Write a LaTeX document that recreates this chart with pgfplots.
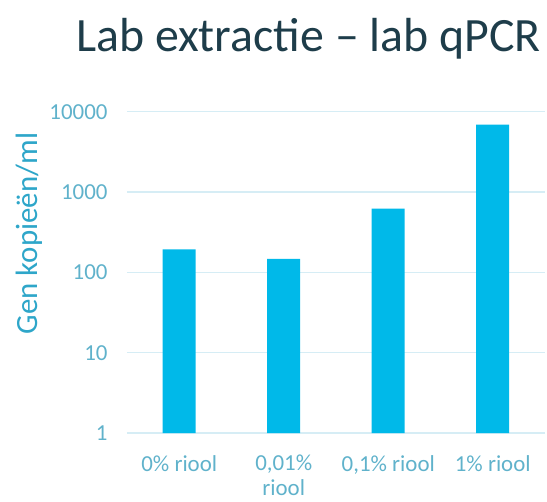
\documentclass[border=0pt]{standalone}
\usepackage{fontspec}
\setmainfont{Carlito}
\usepackage{pgfplots}
\pgfplotsset{compat=1.18}
\definecolor{barblue}{RGB}{0,185,233}
\definecolor{gridblue}{RGB}{214,237,245}
\definecolor{ticktxt}{RGB}{96,178,203}
\definecolor{labtxt}{RGB}{46,166,201}
\definecolor{titletxt}{RGB}{30,61,74}
\begin{document}
\begin{tikzpicture}
\begin{axis}[
  scale only axis,
  width=418bp, height=321.3bp,
  ymode=log,
  ymin=1, ymax=10000,
  xmin=-0.5, xmax=3.5,
  xtick=data,
  xticklabels={0\% riool, {0,01\%\\riool}, {0,1\% riool}, 1\% riool},
  ytick={1,10,100,1000,10000},
  yticklabels={1,10,100,1000,10000},
  axis line style={draw=none},
  major tick length=0pt,
  minor tick length=0pt,
  minor ytick={},
  ymajorgrids,
  grid style={gridblue, line width=1.5bp},
  /pgf/number format/assume math mode=true,
  ticklabel style={font=\fontsize{23}{25}\selectfont, text=ticktxt},
  yticklabel style={xshift=-16bp},
  xticklabel style={align=center, anchor=north, inner sep=0pt, yshift=-22bp},
  ylabel={Gen kopieën/ml},
  ylabel style={at={(axis description cs:-0.2344,0.621)}, anchor=center,
    font=\fontsize{31}{36}\selectfont, text=labtxt},
  ybar, bar width=33bp,
]
\addplot[fill=barblue, draw=none] coordinates {
(0,193) (1,147) (2,623) (3,6900)
};
\end{axis}
\node[anchor=base, text=titletxt, font=\fontsize{48}{56}\selectfont, inner sep=0pt]
  at (181.5bp,381bp) {Lab extractie -- lab qPCR};
\path[use as bounding box] (-127bp,-69bp) rectangle (420bp,433bp);
\end{tikzpicture}
\end{document}
